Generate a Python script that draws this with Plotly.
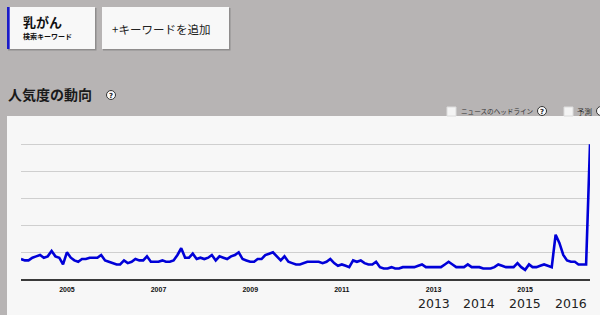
import plotly.graph_objects as go
import pandas as pd

# ---- data (monthly search interest, Jan 2004 - Jun 2016) ----
start_month = "2004-01-01"
values = [
    15, 14, 14, 16, 17, 18, 16, 17, 21, 17, 16, 11,
    20, 16, 14, 13, 15, 15, 16, 16, 16, 18, 14, 13,
    12, 11, 11, 14, 12, 13, 15, 14, 14, 17, 13, 13,
    13, 14, 13, 13, 14, 18, 23, 16, 16, 19, 15, 16,
    15, 16, 18, 14, 17, 16, 15, 17, 18, 20, 15, 14,
    13, 13, 15, 15, 18, 19, 20, 17, 14, 17, 13, 12,
    11, 11, 12, 13, 13, 13, 13, 12, 13, 15, 12, 10,
    11, 10, 9, 14, 13, 14, 12, 11, 11, 13, 9, 8,
    8, 9, 8, 8, 9, 9, 9, 9, 10, 11, 9, 9,
    9, 9, 9, 11, 13, 11, 9, 9, 9, 11, 9, 9,
    9, 8, 8, 8, 9, 11, 10, 9, 9, 9, 12, 9,
    7, 11, 9, 9, 10, 11, 10, 9, 33, 27, 18, 14,
    13, 13, 11, 11, 11, 100,
]
dates = pd.date_range(start_month, periods=len(values), freq="MS")

tick_years = ["2005", "2007", "2009", "2011", "2013", "2015"]
extra_years = ["2013", "2014", "2015", "2016"]
grid_values = [20, 40, 60, 80, 100]

title_text = "人気度の動向"
keyword = "乳がん"
keyword_sub = "検索キーワード"
add_keyword = "+キーワードを追加"
news_label = "ニュースのヘッドライン"
forecast_label = "予測"

W, H = 600, 315
def px(x):
    return x / W
def py(y):
    return 1 - y / H

# plot area in pixels
x_left, x_right = 21, 590
y_zero, y_hundred = 279.3, 144.3
unit = (y_zero - y_hundred) / 100.0
y_top_range = 101.5
y_top_px = y_zero - unit * y_top_range

BG = "#b7b4b4"
PANEL = "#f7f7f7"
JP = "Noto Sans CJK JP"

fig = go.Figure()
fig.add_trace(go.Scatter(
    x=dates, y=values, mode="lines",
    line=dict(color="#0000d8", width=2.6),
    hoverinfo="skip", showlegend=False,
))

shapes = []
# white chart panel
shapes.append(dict(type="rect", xref="paper", yref="paper", layer="below",
                   x0=px(7), x1=1.0, y0=0, y1=py(116),
                   fillcolor=PANEL, line=dict(width=0)))
# keyword boxes (shadow + box)
for (x0, x1) in [(7, 95), (102, 229)]:
    shapes.append(dict(type="rect", xref="paper", yref="paper", layer="below",
                       x0=px(x0 + 1), x1=px(x1 + 1.5), y0=py(50.5), y1=py(8),
                       fillcolor="#8f8d8d", line=dict(width=0)))
    shapes.append(dict(type="rect", xref="paper", yref="paper", layer="below",
                       x0=px(x0), x1=px(x1), y0=py(49), y1=py(7),
                       fillcolor="#f8f8f8", line=dict(width=0)))
# blue left border of active keyword box
shapes.append(dict(type="rect", xref="paper", yref="paper", layer="below",
                   x0=px(7), x1=px(9.7), y0=py(49), y1=py(7),
                   fillcolor="#1a1ac8", line=dict(width=0)))
# question-mark circles
for (cx, cy) in [(111, 95), (542, 111), (601, 111)]:
    shapes.append(dict(type="circle", xref="paper", yref="paper",
                       x0=px(cx - 4.5), x1=px(cx + 4.5), y0=py(cy + 4.5), y1=py(cy - 4.5),
                       fillcolor="#fafafa", line=dict(color="#333", width=1)))
# checkboxes
for cx in [447, 564]:
    shapes.append(dict(type="rect", xref="paper", yref="paper",
                       x0=px(cx), x1=px(cx + 9), y0=py(116), y1=py(107),
                       fillcolor="#f4f4f4", line=dict(color="#dcdcdc", width=1)))

annotations = []
def txt(text, x, y, size, color="#111", weight="normal", family=JP, xanchor="left"):
    annotations.append(dict(text=text, x=px(x), y=py(y), xref="paper", yref="paper",
                            showarrow=False, xanchor=xanchor, yanchor="middle",
                            font=dict(size=size, color=color, family=family, weight=weight)))

txt(keyword, 21, 21.5, 13, weight="bold")
txt(keyword_sub, 21, 36, 7, weight="bold")
txt(add_keyword, 161, 29, 11.5, color="#222", xanchor="center")
txt(title_text, 6, 94, 14, color="#1a1a1a", weight="bold")
txt("?", 111, 95.5, 7, color="#222", weight="bold", family="DejaVu Sans", xanchor="center")
txt("?", 542, 111.5, 7, color="#222", weight="bold", family="DejaVu Sans", xanchor="center")
txt(news_label, 459, 111, 6.6, color="#333")
txt(forecast_label, 575, 111, 7.5, color="#333")

for yr in extra_years:
    annotations.append(dict(text=yr, x=f"{yr}-01-01", y=py(303), xref="x", yref="paper",
                            showarrow=False, xanchor="center", yanchor="middle",
                            font=dict(size=12.5, color="#222", family="DejaVu Sans")))

fig.update_layout(
    width=W, height=H,
    margin=dict(l=0, r=0, t=0, b=0),
    paper_bgcolor=BG, plot_bgcolor="rgba(0,0,0,0)",
    shapes=shapes, annotations=annotations,
    xaxis=dict(
        domain=[px(x_left), px(x_right)],
        range=[dates[0], dates[-1]],
        tickvals=[f"{y}-01-01" for y in tick_years],
        ticktext=tick_years,
        tickfont=dict(size=7, color="#111", family="Liberation Sans", weight="bold"),
        showgrid=False, zeroline=False,
        showline=True, linecolor="#3a3a3a", linewidth=2,
        ticks="", ticklabelstandoff=2,
        fixedrange=True,
    ),
    yaxis=dict(
        domain=[py(y_zero), py(y_top_px)],
        range=[0, y_top_range],
        tickvals=grid_values,
        showticklabels=False,
        showgrid=True, gridcolor="#cfcfcf", gridwidth=1,
        zeroline=False, showline=False,
        fixedrange=True,
    ),
    hovermode=False,
)

fig.write_html("out.html", config={"displayModeBar": False})
